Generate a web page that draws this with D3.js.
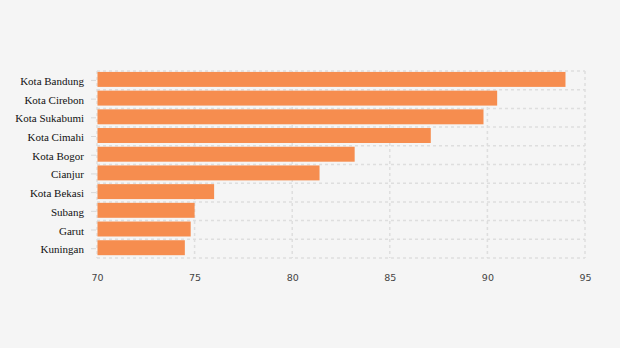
<!DOCTYPE html>
<html><head><meta charset="utf-8">
<script src="https://cdn.jsdelivr.net/npm/d3@7"></script>
<style>
html,body{margin:0;padding:0;background:#f5f5f5;}
svg{display:block;}
</style></head>
<body>
<script>
const categories = ["Kota Bandung","Kota Cirebon","Kota Sukabumi","Kota Cimahi","Kota Bogor","Cianjur","Kota Bekasi","Subang","Garut","Kuningan"];
const values = [94.0, 90.5, 89.8, 87.1, 83.2, 81.4, 76.0, 75.0, 74.8, 74.5];
const xTicks = [70, 75, 80, 85, 90, 95];

const W = 620, H = 348;
const svg = d3.select("body").append("svg").attr("width", W).attr("height", H);
svg.append("rect").attr("width", W).attr("height", H).attr("fill", "#f5f5f5");

const x = d3.scaleLinear().domain([70, 95]).range([97, 585]);
const y = d3.scaleBand().domain(categories).range([71, 258]).paddingInner(0.2).paddingOuter(0.1).align(0.25);

const grid = svg.append("g");
const bounds = d3.range(categories.length + 1).map(i => 71 + i * (187 / categories.length));
grid.selectAll("line.h").data(bounds).join("line")
  .attr("x1", x(70)).attr("x2", x(95))
  .attr("y1", d => d).attr("y2", d => d)
  .attr("stroke", "#dedede").attr("stroke-width", 1.5).attr("stroke-dasharray", "3,3");
grid.selectAll("line.v").data(xTicks).join("line")
  .attr("x1", d => x(d)).attr("x2", d => x(d))
  .attr("y1", 71).attr("y2", 258)
  .attr("stroke", "#dedede").attr("stroke-width", 1.5).attr("stroke-dasharray", "3,3");

svg.append("g").selectAll("rect").data(categories).join("rect")
  .attr("x", x(70) + 0.5)
  .attr("y", d => y(d))
  .attr("width", (d, i) => x(values[i]) - x(70) - 0.5)
  .attr("height", y.bandwidth())
  .attr("fill", "#f68d4f");

// y axis
const yAxis = svg.append("g").attr("transform", "translate(96,0)")
  .call(d3.axisLeft(y).tickSize(5).tickPadding(7));
yAxis.select(".domain").remove();
yAxis.selectAll(".tick line").attr("stroke", "#d8d8d8").attr("transform", "translate(0,1)");
yAxis.selectAll(".tick text").attr("font-family", "'Liberation Serif', 'Times New Roman', serif")
  .attr("font-size", 11).attr("fill", "#111").attr("y", 2);

// x axis
const xAxis = svg.append("g").attr("transform", "translate(0,264)")
  .call(d3.axisBottom(x).tickValues(xTicks).tickSize(0).tickPadding(10));
xAxis.select(".domain").remove();
xAxis.selectAll(".tick text").attr("font-family", "'DejaVu Sans', sans-serif")
  .attr("font-size", 9.5).attr("fill", "#444");
</script>
</body></html>
